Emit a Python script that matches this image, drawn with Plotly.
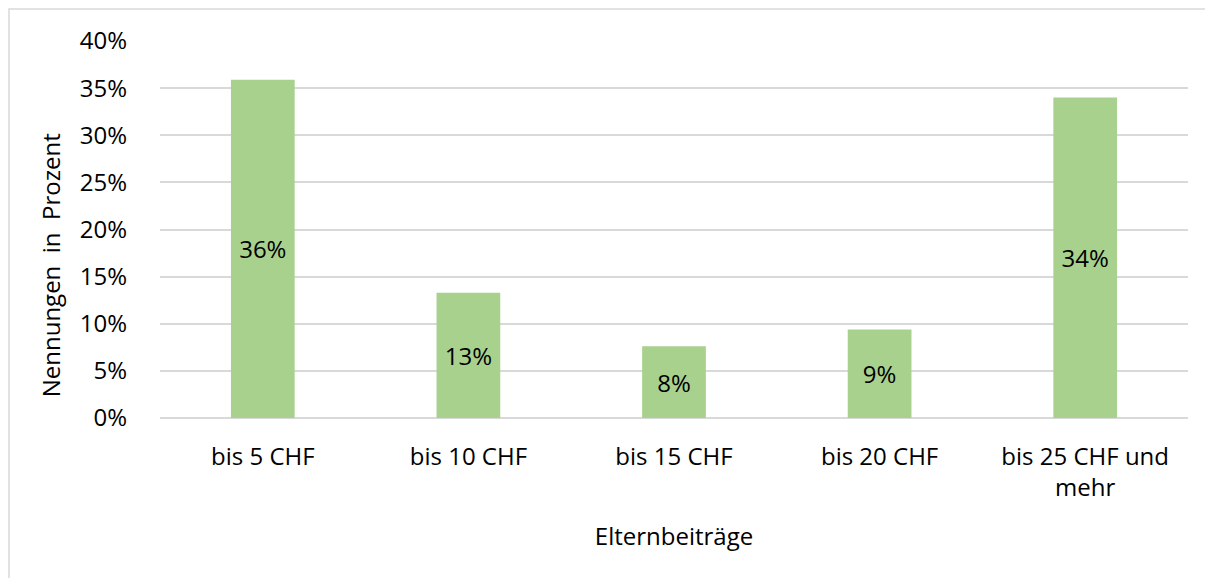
import plotly.graph_objects as go

categories = ["bis 5 CHF", "bis 10 CHF", "bis 15 CHF", "bis 20 CHF", "bis 25 CHF und<br>mehr"]
values = [0.359, 0.133, 0.076, 0.094, 0.340]
labels = ["36%", "13%", "8%", "9%", "34%"]
y_ticks = [0, 0.05, 0.10, 0.15, 0.20, 0.25, 0.30, 0.35, 0.40]
y_ticklabels = ["0%", "5%", "10%", "15%", "20%", "25%", "30%", "35%", "40%"]
y_title = "Nennungen  in  Prozent"
x_title = "Elternbeiträge"

FONT = "Open Sans"
FS = 24
W, H = 1205, 570
L, R, T, B = 152, 25, 33, 160

fig = go.Figure(go.Bar(
    x=categories, y=values, text=labels,
    textposition="inside", insidetextanchor="middle",
    textfont=dict(family=FONT, size=FS, color="black"),
    marker=dict(color="#a9d18e", line=dict(width=0)),
    hoverinfo="skip",
))

pw = W - L - R
ph = H - T - B
fig.add_shape(type="rect", xref="paper", yref="paper",
              x0=(1 - L) / pw, x1=1.2,
              y0=-0.6, y1=(ph + T - 1) / ph,
              line=dict(color="#d9d9d9", width=1.5), layer="below")

fig.add_annotation(
    text=y_title, textangle=-90, showarrow=False,
    xref="paper", yref="paper", x=-0.107, y=0.405,
    xanchor="center", yanchor="middle",
    font=dict(family=FONT, size=FS, color="black"),
)

fig.update_layout(
    width=W, height=H,
    margin=dict(l=L, r=R, t=T, b=B),
    paper_bgcolor="white", plot_bgcolor="white",
    bargap=0.69,
    showlegend=False,
    font=dict(family=FONT, size=FS, color="black"),
    xaxis=dict(
        title=dict(text=x_title, font=dict(size=FS), standoff=25),
        tickfont=dict(size=FS), showgrid=False, zeroline=False, showline=False, ticks="",
        ticklabelstandoff=22,
    ),
    yaxis=dict(
        range=[0, 0.40], tickvals=y_ticks, ticktext=y_ticklabels,
        tickfont=dict(size=FS), showgrid=True, gridcolor="#d9d9d9", gridwidth=1.5,
        zeroline=True, zerolinecolor="#d9d9d9", zerolinewidth=1.5, ticks="",
        ticklabelstandoff=32,
    ),
)

fig.write_html("out.html")
